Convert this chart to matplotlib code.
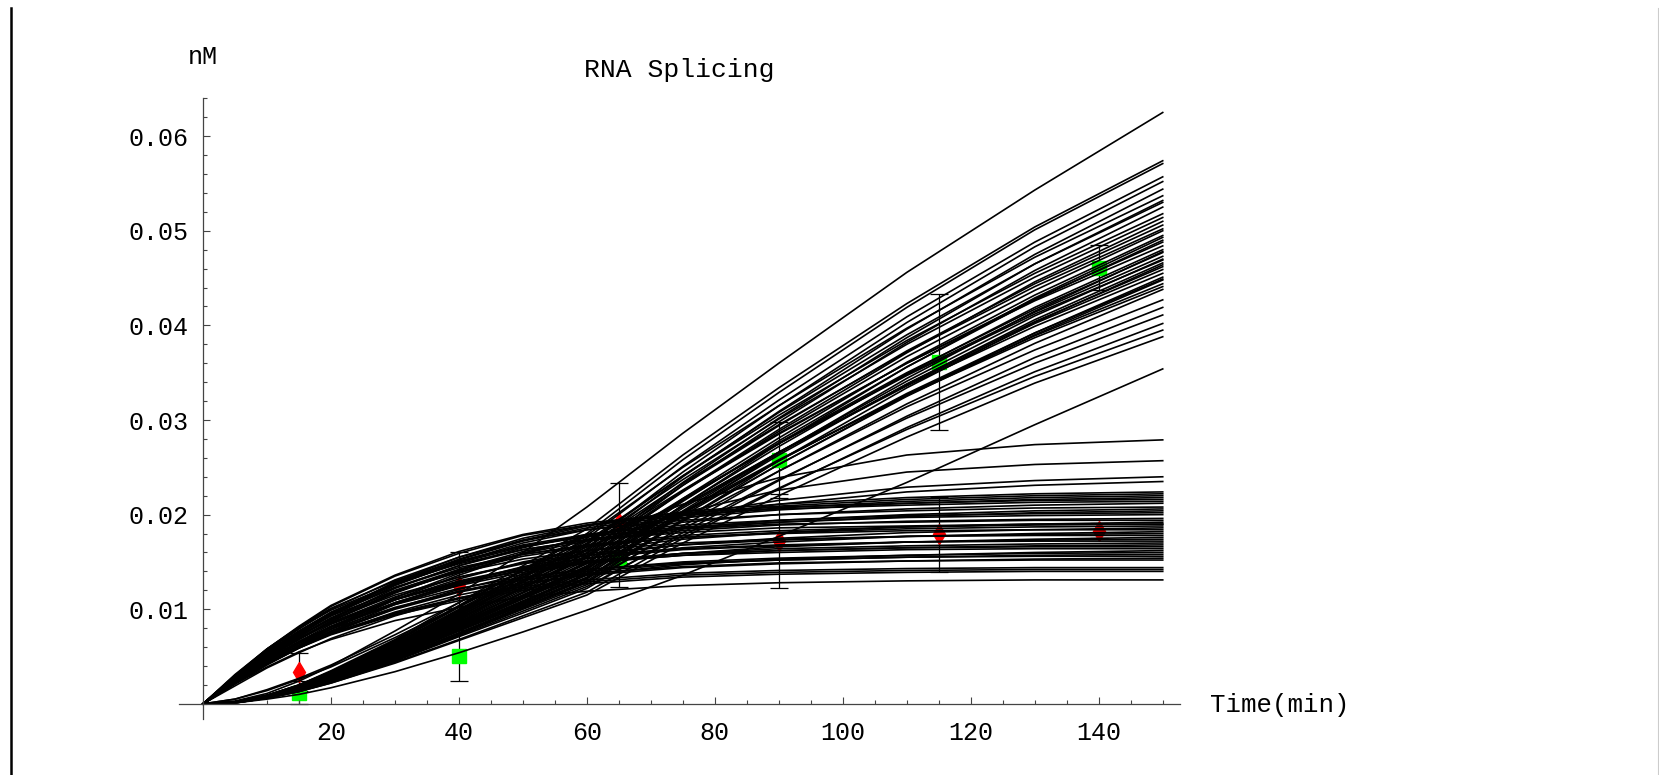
import matplotlib
matplotlib.use("Agg")
import matplotlib.pyplot as plt
import numpy as np
from matplotlib.ticker import FixedLocator, MultipleLocator, FuncFormatter
from matplotlib.lines import Line2D

plt.rcParams["font.family"] = ["Liberation Mono", "DejaVu Sans Mono"]

# simulation output times (min)
t_sim = [0, 5, 10, 15, 20, 30, 40, 50, 60, 75, 90, 110, 130, 150]

# spliced product runs that level off (units of 1e-3 nM)
sat_runs = [
    [0, 2.7, 5.3, 7.5, 9.5, 12.9, 15.5, 17.5, 18.9, 20.3, 21.1, 21.8, 22.2, 22.4],
    [0, 2.6, 5.2, 7.4, 9.4, 12.7, 15.2, 17.2, 18.6, 19.9, 20.7, 21.4, 21.8, 22.0],
    [0, 3.0, 5.8, 8.2, 10.4, 13.6, 16.1, 17.9, 19.1, 20.2, 20.8, 21.2, 21.5, 21.6],
    [0, 2.5, 5.0, 7.1, 9.0, 12.2, 14.6, 16.5, 17.9, 19.2, 20.0, 20.6, 21.0, 21.2],
    [0, 2.9, 5.6, 7.9, 10.0, 13.1, 15.5, 17.3, 18.4, 19.4, 20.0, 20.4, 20.7, 20.8],
    [0, 2.4, 4.8, 6.8, 8.7, 11.7, 14.1, 15.9, 17.2, 18.5, 19.2, 19.8, 20.2, 20.4],
    [0, 2.8, 5.4, 7.6, 9.6, 12.6, 14.9, 16.6, 17.7, 18.7, 19.2, 19.7, 19.9, 20.0],
    [0, 2.7, 5.3, 7.4, 9.4, 12.3, 14.6, 16.3, 17.3, 18.3, 18.9, 19.3, 19.5, 19.6],
    [0, 2.3, 4.5, 6.4, 8.2, 11.0, 13.2, 15.0, 16.2, 17.4, 18.1, 18.7, 19.0, 19.2],
    [0, 2.6, 5.1, 7.1, 9.0, 11.8, 14.0, 15.6, 16.6, 17.6, 18.1, 18.5, 18.7, 18.8],
    [0, 2.9, 5.5, 7.7, 9.6, 12.3, 14.4, 15.8, 16.7, 17.6, 18.0, 18.3, 18.4, 18.4],
    [0, 2.5, 4.9, 6.8, 8.6, 11.3, 13.4, 14.9, 15.9, 16.8, 17.3, 17.7, 17.9, 18.0],
    [0, 2.1, 4.1, 5.9, 7.5, 10.1, 12.1, 13.7, 14.9, 15.9, 16.6, 17.1, 17.4, 17.6],
    [0, 2.8, 5.2, 7.2, 8.9, 11.5, 13.4, 14.8, 15.7, 16.4, 16.8, 17.1, 17.2, 17.2],
    [0, 2.4, 4.5, 6.4, 8.1, 10.6, 12.5, 13.9, 14.9, 15.7, 16.2, 16.5, 16.7, 16.8],
    [0, 2.6, 4.9, 6.9, 8.5, 11.0, 12.8, 14.1, 14.9, 15.7, 16.0, 16.3, 16.4, 16.4],
    [0, 2.2, 4.3, 6.1, 7.7, 10.1, 11.9, 13.3, 14.2, 15.0, 15.4, 15.7, 15.9, 16.0],
    [0, 2.5, 4.7, 6.6, 8.1, 10.5, 12.2, 13.4, 14.2, 14.9, 15.2, 15.5, 15.6, 15.6],
    [0, 2.4, 4.6, 6.4, 7.9, 10.2, 11.9, 13.1, 13.8, 14.5, 14.9, 15.1, 15.2, 15.2],
    [0, 2.3, 4.3, 6.0, 7.5, 9.6, 11.2, 12.4, 13.1, 13.8, 14.1, 14.3, 14.4, 14.4],
    [0, 2.2, 4.2, 5.9, 7.3, 9.4, 10.9, 12.0, 12.7, 13.4, 13.7, 13.9, 14.0, 14.0],
    [0, 2.1, 3.9, 5.5, 6.8, 8.8, 10.2, 11.3, 11.9, 12.5, 12.8, 13.0, 13.1, 13.1],
    [0, 2.6, 5.1, 7.3, 9.3, 12.5, 15.0, 17.0, 18.4, 19.7, 20.5, 21.2, 21.6, 21.8],
    [0, 3.0, 5.7, 8.0, 9.9, 12.7, 14.8, 16.3, 17.3, 18.1, 18.6, 18.8, 19.0, 19.0],
    [0, 2.2, 4.4, 6.2, 7.9, 10.7, 12.8, 14.5, 15.7, 16.8, 17.5, 18.1, 18.4, 18.6],
    [0, 2.8, 5.3, 7.5, 9.3, 11.9, 13.9, 15.3, 16.2, 17.0, 17.4, 17.7, 17.8, 17.8],
    [0, 2.4, 4.6, 6.5, 8.2, 10.7, 12.7, 14.1, 15.0, 15.9, 16.4, 16.7, 16.9, 17.0],
    [0, 1.9, 3.8, 5.4, 6.9, 9.3, 11.2, 12.6, 13.7, 14.7, 15.3, 15.7, 16.0, 16.2],
    [0, 2.2, 4.2, 5.9, 7.4, 9.7, 11.5, 12.8, 13.6, 14.4, 14.8, 15.1, 15.3, 15.4],
    [0, 2.3, 4.3, 6.0, 7.4, 9.5, 11.1, 12.2, 12.9, 13.6, 13.9, 14.1, 14.2, 14.2],
    [0, 3.0, 5.8, 8.1, 10.3, 13.5, 15.9, 17.8, 18.9, 20.0, 20.6, 21.0, 21.3, 21.4],
    [0, 2.5, 4.8, 6.9, 8.8, 11.8, 14.2, 16.1, 17.4, 18.6, 19.4, 20.0, 20.4, 20.6],
    [0, 2.8, 5.5, 7.7, 9.7, 12.7, 15.0, 16.8, 17.9, 18.9, 19.4, 19.9, 20.1, 20.2],
    [0, 3.1, 5.8, 8.1, 10.1, 13.0, 15.1, 16.7, 17.7, 18.5, 19.0, 19.2, 19.4, 19.4],
    [0, 2.7, 5.1, 7.2, 9.1, 12.0, 14.2, 15.8, 16.8, 17.8, 18.3, 18.7, 18.9, 19.0],
    [0, 2.2, 4.3, 6.1, 7.7, 10.5, 12.6, 14.2, 15.4, 16.5, 17.1, 17.7, 18.0, 18.2],
    [0, 2.4, 4.7, 6.6, 8.4, 11.0, 13.0, 14.4, 15.4, 16.3, 16.7, 17.1, 17.3, 17.4],
    [0, 2.7, 5.0, 7.0, 8.6, 11.1, 12.9, 14.3, 15.1, 15.9, 16.2, 16.5, 16.6, 16.6],
    [0, 2.2, 4.3, 6.0, 7.6, 10.0, 11.8, 13.1, 14.0, 14.8, 15.2, 15.5, 15.7, 15.8],
    [0, 2.7, 5.2, 7.4, 9.4, 12.8, 15.3, 17.3, 18.8, 20.1, 20.9, 21.6, 22.0, 22.2],
    # slower runs with a higher plateau
    [0, 0.5, 1.5, 2.7, 4.1, 7.3, 10.7, 14.1, 17.3, 21.1, 23.9, 26.3, 27.4, 27.9],
    [0, 0.5, 1.4, 2.6, 3.9, 7.0, 10.3, 13.6, 16.6, 20.2, 22.6, 24.5, 25.3, 25.7],
    [0, 2.2, 4.3, 6.2, 7.9, 11.0, 13.6, 15.9, 17.7, 19.9, 21.5, 22.9, 23.6, 24.0],
    [0, 2.3, 4.5, 6.4, 8.1, 11.2, 13.8, 15.9, 17.6, 19.6, 21.1, 22.4, 23.1, 23.5],
]

# runs that keep rising (units of 1e-3 nM)
rise_runs = [
    [0, 0.2, 0.9, 2.0, 3.5, 6.8, 10.7, 14.6, 18.5, 26.3, 33.4, 42.3, 50.4, 57.4],
    [0, 0.2, 0.9, 2.0, 3.4, 6.7, 10.4, 14.2, 18.0, 25.8, 32.9, 41.9, 50.1, 57.1],
    [0, 0.2, 0.9, 1.9, 3.3, 6.5, 10.2, 13.8, 17.5, 25.1, 32.1, 40.9, 48.8, 55.7],
    [0, 0.2, 0.8, 1.8, 3.2, 6.2, 9.7, 13.3, 16.8, 24.5, 31.5, 40.3, 48.3, 55.2],
    [0, 0.2, 0.9, 2.0, 3.4, 6.6, 10.3, 14.1, 17.8, 25.0, 31.5, 39.7, 47.2, 53.7],
    [0, 0.2, 0.8, 1.8, 3.0, 5.9, 9.3, 12.6, 16.0, 23.4, 30.2, 38.7, 46.5, 53.2],
    [0, 0.2, 0.9, 1.9, 3.3, 6.4, 10.0, 13.6, 17.2, 24.1, 30.5, 38.4, 45.5, 51.8],
    [0, 0.2, 0.8, 1.7, 2.9, 5.7, 8.9, 12.2, 15.4, 22.5, 29.0, 37.1, 44.6, 51.0],
    [0, 0.2, 0.8, 1.8, 3.2, 6.1, 9.6, 13.1, 16.6, 23.3, 29.5, 37.2, 44.1, 50.2],
    [0, 0.2, 0.7, 1.6, 2.8, 5.5, 8.6, 11.7, 14.8, 21.7, 28.1, 36.1, 43.2, 49.5],
    [0, 0.2, 0.8, 1.7, 3.0, 5.9, 9.2, 12.6, 15.9, 22.5, 28.5, 36.0, 42.8, 48.8],
    [0, 0.2, 0.7, 1.6, 2.7, 5.3, 8.2, 11.2, 14.2, 21.0, 27.2, 34.9, 41.9, 48.0],
    [0, 0.2, 0.8, 1.7, 2.9, 5.6, 8.8, 12.0, 15.2, 21.6, 27.5, 34.8, 41.4, 47.3],
    [0, 0.2, 0.7, 1.5, 2.6, 5.0, 7.9, 10.7, 13.6, 20.2, 26.3, 33.8, 40.6, 46.6],
    [0, 0.2, 0.7, 1.6, 2.8, 5.4, 8.5, 11.5, 14.6, 20.9, 26.6, 33.7, 40.2, 45.9],
    [0, 0.2, 0.7, 1.4, 2.5, 4.8, 7.5, 10.3, 13.0, 19.4, 25.3, 32.6, 39.2, 45.1],
    [0, 0.2, 0.7, 1.5, 2.7, 5.2, 8.1, 11.1, 14.0, 20.1, 25.7, 32.7, 38.9, 44.4],
    [0, 0.2, 0.6, 1.4, 2.4, 4.7, 7.3, 10.0, 12.6, 18.8, 24.6, 31.7, 38.1, 43.8],
    [0, 0.2, 0.7, 1.5, 2.5, 5.0, 7.8, 10.6, 13.4, 19.3, 24.6, 31.4, 37.4, 42.7],
    [0, 0.1, 0.6, 1.3, 2.3, 4.5, 7.1, 9.6, 12.2, 18.1, 23.6, 30.4, 36.6, 41.9],
    [0, 0.2, 0.6, 1.4, 2.5, 4.8, 7.5, 10.2, 12.9, 18.5, 23.7, 30.2, 36.0, 41.1],
    [0, 0.1, 0.6, 1.3, 2.2, 4.4, 6.8, 9.3, 11.8, 17.5, 22.7, 29.2, 35.1, 40.2],
    [0, 0.1, 0.6, 1.4, 2.4, 4.6, 7.2, 9.8, 12.4, 17.8, 22.8, 29.0, 34.6, 39.5],
    [0, 0.1, 0.6, 1.3, 2.2, 4.3, 6.7, 9.1, 11.5, 17.0, 22.0, 28.2, 33.9, 38.8],
    [0, 0.2, 0.8, 1.8, 3.1, 6.1, 9.5, 13.0, 16.4, 24.0, 30.9, 39.6, 47.5, 54.4],
    [0, 0.2, 0.8, 1.7, 3.0, 5.8, 9.1, 12.4, 15.7, 23.1, 29.8, 38.2, 45.8, 52.5],
    [0, 0.2, 0.8, 1.8, 3.1, 6.0, 9.4, 12.8, 16.2, 23.1, 29.4, 37.3, 44.4, 50.6],
    [0, 0.2, 0.7, 1.6, 2.8, 5.4, 8.4, 11.5, 14.5, 21.4, 27.8, 35.6, 42.7, 49.0],
    [0, 0.2, 0.8, 1.6, 2.8, 5.5, 8.7, 11.8, 15.0, 21.5, 27.6, 35.0, 41.7, 47.7],
    [0, 0.2, 0.7, 1.5, 2.6, 5.1, 8.0, 10.9, 13.8, 20.4, 26.6, 34.1, 41.0, 47.0],
    [0, 0.2, 0.7, 1.6, 2.7, 5.3, 8.3, 11.3, 14.3, 20.7, 26.5, 33.8, 40.4, 46.2],
    [0, 0.2, 0.7, 1.5, 2.5, 4.9, 7.7, 10.4, 13.2, 19.5, 25.3, 32.5, 39.0, 44.8],
    [0, 0.2, 0.8, 1.9, 3.2, 6.3, 9.8, 13.4, 16.9, 23.7, 30.1, 38.0, 45.1, 51.4],
    [0, 0.2, 0.8, 1.7, 3.0, 5.8, 9.0, 12.3, 15.6, 22.4, 28.8, 36.7, 43.7, 50.0],
    [0, 0.2, 0.7, 1.5, 2.7, 5.2, 8.1, 11.1, 14.0, 21.0, 27.5, 35.6, 42.9, 49.3],
    [0, 0.2, 0.8, 1.8, 3.1, 6.0, 9.5, 12.9, 16.3, 22.6, 28.6, 36.0, 42.6, 48.4],
    [0, 0.2, 0.7, 1.5, 2.5, 4.9, 7.7, 10.5, 13.3, 20.1, 26.5, 34.4, 41.5, 47.8],
    [0, 0.2, 0.8, 1.7, 2.9, 5.7, 9.0, 12.2, 15.5, 21.7, 27.5, 34.7, 41.2, 46.9],
    [0, 0.2, 0.6, 1.4, 2.4, 4.7, 7.4, 10.1, 12.8, 19.4, 25.7, 33.4, 40.3, 46.4],
    [0, 0.2, 0.7, 1.6, 2.8, 5.5, 8.6, 11.8, 14.9, 20.9, 26.6, 33.6, 39.9, 45.5],
    [0, 0.2, 0.7, 1.5, 2.6, 5.1, 7.9, 10.8, 13.7, 19.9, 25.7, 32.8, 39.2, 44.9],
    [0, 0.2, 0.7, 1.6, 2.7, 5.3, 8.4, 11.4, 14.4, 20.3, 25.8, 32.6, 38.7, 44.1],
    [0, 0.2, 0.9, 1.9, 3.2, 6.3, 9.9, 13.4, 17.0, 24.1, 30.8, 39.0, 46.5, 53.0],
    # fastest and slowest runs
    [0, 0.3, 1.1, 2.4, 4.0, 7.7, 11.6, 16.0, 20.8, 28.6, 36.0, 45.6, 54.3, 62.5],
    [0, 0.1, 0.5, 1.0, 1.7, 3.4, 5.4, 7.6, 9.9, 13.6, 17.7, 23.4, 29.5, 35.4],
]

# measured points (min, nM) with error half-widths
t_obs = [15, 40, 65, 90, 115, 140]
red_y = [0.0034, 0.0125, 0.0191, 0.0172, 0.0179, 0.0183]
red_err = [0.0020, 0.0036, 0.0042, 0.0050, 0.0040, 0.0008]
green_y = [0.0012, 0.0051, 0.0154, 0.0258, 0.0361, 0.0461]
green_err = [0.0012, 0.0027, 0.0031, 0.0040, 0.0072, 0.0024]

x_major = [20, 40, 60, 80, 100, 120, 140]
y_major = [0.01, 0.02, 0.03, 0.04, 0.05, 0.06]

W, H = 1659, 775
fig = plt.figure(figsize=(W / 100, H / 100), dpi=100)
ax = fig.add_axes([179 / W, 1 - 719 / H, (1180 - 179) / W, (719 - 98.3) / H])
ax.set_xlim(-3.75, 152.7)
ax.set_ylim(-0.0016, 0.064)

ax.errorbar(t_obs, red_y, yerr=red_err, fmt='d', color='#ff0000', ms=10,
            ecolor='black', elinewidth=0.9, capsize=6.5, capthick=0.9, zorder=1)
ax.errorbar(t_obs, green_y, yerr=green_err, fmt='s', color='#00ff00', ms=9.5,
            ecolor='black', elinewidth=0.9, capsize=6.5, capthick=0.9, zorder=1)

t = np.array(t_sim)
for run in sat_runs + rise_runs:
    ax.plot(t, np.array(run) * 1e-3, color='black', lw=1.2, zorder=2,
            solid_joinstyle='round')

for side in ('top', 'right'):
    ax.spines[side].set_visible(False)
ax.spines['left'].set_position(('data', 0))
ax.spines['bottom'].set_position(('data', 0))
for side in ('left', 'bottom'):
    ax.spines[side].set_color('#444444')
    ax.spines[side].set_linewidth(0.9)

ax.xaxis.set_major_locator(FixedLocator(x_major))
ax.xaxis.set_minor_locator(MultipleLocator(5))
ax.yaxis.set_major_locator(FixedLocator(y_major))
ax.yaxis.set_minor_locator(MultipleLocator(0.002))
ax.xaxis.set_major_formatter(FuncFormatter(lambda v, p: f"{v:.0f}"))
ax.yaxis.set_major_formatter(FuncFormatter(lambda v, p: f"{v:.2f}"))
ax.tick_params(which='both', direction='in', color='#444444', width=0.8,
               labelsize=18)
ax.tick_params(which='major', length=5)
ax.tick_params(which='minor', length=3)
ax.tick_params(axis='x', pad=12)
ax.tick_params(axis='y', pad=10.5)

fig.text((179 + 1180) / 2 / W, 1 - 70 / H, 'RNA Splicing', ha='center',
         va='center', fontsize=19)
fig.text(203 / W, 1 - 57 / H, 'nM', ha='center', va='center', fontsize=18)
fig.text(1210 / W, 1 - 705 / H, 'Time(min)', ha='left', va='center',
         fontsize=18.5)

# frame edges of the notebook cell
fig.add_artist(Line2D([11 / W, 11 / W], [0, 1 - 8 / H], color='black', lw=1.8))
fig.add_artist(Line2D([1657.5 / W, 1657.5 / W], [0, 1 - 8 / H],
                      color='#cccccc', lw=0.8))

fig.savefig('out.png', dpi=100)
